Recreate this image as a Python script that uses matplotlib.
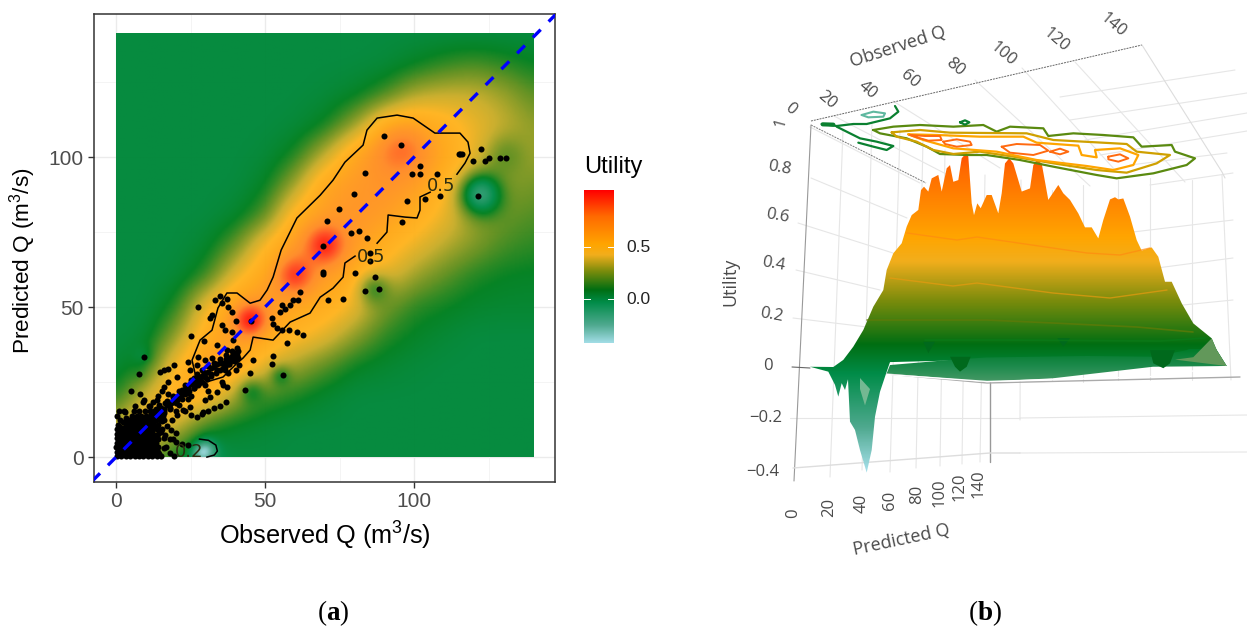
import numpy as np
import matplotlib
matplotlib.use("Agg")
import matplotlib.pyplot as plt
from matplotlib.colors import LinearSegmentedColormap, Normalize
from matplotlib.patches import Polygon

plt.rcParams['font.family'] = ['Liberation Sans', 'DejaVu Sans']
plt.rcParams['mathtext.fontset'] = 'custom'
plt.rcParams['mathtext.rm'] = 'Liberation Sans'
plt.rcParams['mathtext.bf'] = 'Liberation Serif:bold'
plt.rcParams['mathtext.default'] = 'regular'

W, H = 1247, 632

# ---------- panel (a) data ----------
grid_q = list(range(0, 150, 10))
utility_grid = [
 [.22,.20,.05,-.06,.00,.00,.00,.00,.00,.00,.00,.00,.00,.00,.00],   # pred 0
 [.30,.45,.30,.10,.04,.02,.00,.00,.00,.00,.00,.00,.00,.00,.00],
 [.08,.32,.50,.45,.25,.12,.08,.03,.00,.00,.00,.00,.00,.00,.00],
 [.02,.10,.42,.60,.52,.36,.24,.15,.06,.03,.01,.00,.00,.00,.00],
 [.00,.02,.22,.50,.62,.52,.44,.36,.22,.10,.05,.02,.00,.00,.00],
 [.00,.00,.08,.38,.60,.65,.55,.50,.38,.20,.10,.07,.04,.03,.03],
 [.00,.00,.01,.10,.36,.55,.70,.60,.52,.38,.24,.16,.09,.06,.05],
 [.00,.00,.00,.03,.16,.42,.62,.78,.60,.48,.38,.28,.20,.13,.10],
 [.00,.00,.00,.00,.03,.14,.48,.60,.65,.60,.50,.38,.26,.18,.14],
 [.00,.00,.00,.00,.00,.05,.24,.55,.62,.66,.60,.46,.30,.24,.18],
 [.00,.00,.00,.00,.00,.01,.08,.28,.55,.65,.68,.54,.38,.30,.24],
 [.00,.00,.00,.00,.00,.00,.01,.06,.22,.46,.54,.48,.38,.30,.22],
 [.00,.00,.00,.00,.00,.00,.00,.01,.04,.12,.26,.30,.30,.24,.15],
 [.00,.00,.00,.00,.00,.00,.00,.00,.00,.01,.05,.10,.13,.10,.06],
 [.00,.00,.00,.00,.00,.00,.00,.00,.00,.00,.00,.00,.00,.00,.00],
]
# local features on the surface: observed, predicted, utility change, radius
feature_x = [45, 60, 70, 95, 122, 30, 86, 55, 45, 130, 9, 8, 28]
feature_y = [45, 60, 70, 103, 87, 2, 56, 27, 22, 100, 33, 27, 1]
feature_a = [.38, .24, .25, .14, -.42, -.28, -.22, -.14, -.14, -.12, -.06, -.03, -.15]
feature_r = [3.5, 4, 4, 6, 5, 2.5, 4, 2.5, 3, 5, 2.5, 2, 2]

obs_points = [
 90,95.7,115,115.5,116,122.5,119.8,123.9,125.2,128.8,131,102,99.3,102,107.8,83.7,79.7,108.8,103.8,97.6,121.6,
 74.8,70.7,95.8,78.8,81.5,84.2,69.4,85.3,85.3,69.4,69.6,80.1,86.8,83.7,88.2,71.2,76.1,
 61.8,60.9,59.5,58.4,55.6,56.7,55,52.3,52.8,54,55.6,58.2,60.6,62.9,57.3,52.8,52.3,56,43.3,46.1,44.8,40.3,41.1,40.5,
 37.2,38.3,39.4,36.6,37.7,36,37.2,35.5,33.8,31.6,29.9,24.9,29.3,22.6,20.5,18.7,
 34.9,33.2,37.2,35.5,37.7,38.8,40.2,45.3,35.5,36.6,38.8,31.6,32.1,27.6,25.2,29.6,33.8,39.4,37.2,40.5,24.3,27.6,29.9,32.1,24.9,27.1,
 19.3,17.6,16.1,14.8,9.5,7.7,4.9,
 20.4,17.6,16.1,15.3,14.2,13.8,12.5,14.5,16.5,18.3,20,21.5,23,24.5,26,27.5,29,30.5,32,33.5,35,36.5,38,39.5,41,
 26,27.5,28.5,29.5,30,31,24,25,23,22,20.5,19,17.5,21,23,25,27,29,31,33,35,37,
 8,9.5,11,12.5,14,15.5,17,18.5,20,15,13,18,20,22,24,16,18,4,3,6.5,9,11.5,
 15,16.5,14,12,10,8,6.5,19,16,12.5,10.5,14.5,16,18,20,12,13.5,
]
pred_points = [
 107,104,101,101,101,102.7,98.7,98.7,99.6,99.6,99.6,96.9,94.3,94.3,94.3,94.8,87.7,87.1,85.9,85.4,87.1,
 82.8,78.8,78.3,74.8,75.2,73,70.3,68.1,65.4,61.8,61,61.4,60.1,55.2,56.1,52.3,52.8,
 55.1,52.3,52.3,50.6,50.6,49.5,48.4,46.2,44.5,42.9,42.3,42.3,41.7,40.6,37.9,33.6,30.9,27.3,22.3,32.3,27.9,29,30.6,34,
 31,32,33,29,28,24,23.5,25,21.7,20,19.2,16.7,15,15.8,14,12.5,
 53.6,52.3,52.8,51.2,50.1,48.4,45.4,45.4,44,42.5,41.7,46.2,47.3,50.1,40.3,38.6,37.3,39,35.6,36.5,31.7,33.2,32.3,32.9,29,30.6,
 30.6,29.5,28.9,28.4,33.4,27.6,22,
 26.7,25,23.5,22,20.5,19,18.5,17.5,18,18,19,20,21,22,23,24,25,26,27,28,29,30,31,32,33,
 26.5,25,26.8,28,24,22,19.5,20.5,21.5,22.5,19,20,21,17.5,15.5,14,13.5,14.5,15.5,16.5,17,18.5,
 21,19,17,15,13.5,12,10.5,9,8,8.5,7,6,5,4.5,4,3,1.5,12,15,17,18.5,17,
 9,7.5,6,5,4,3,2,6,12.5,11,9,14,15.5,16.5,15.5,13,16,
]
# the thick ribbon along the 1:1 line
ribbon_obs = [12,13,14,15,16,17,18,19,20,21,22,23,24,25,26,27,28,29,30,31,32,33,34,35,36,37,38,39,40,41,
              13,15,17,19,21,23,25,27,29,31,33,35,37,39,
              14,16,18,20,22,24,26,28,30,32,34,36,38,40]
ribbon_pred = [12.5,13.8,14.2,15.5,15.9,17.3,17.6,19.2,19.4,20.8,21.1,22.6,23,24.4,24.8,25.7,26.3,26.9,28.2,28.5,29.7,30,30.9,31.5,31.4,32.8,33.1,33.6,34.7,35.2,
               14.8,16.4,18.6,20.4,22.2,24,25.8,27.6,29,30.4,31.4,32.8,34,35.3,
               12.6,14.6,16,18,19.4,21.4,23.2,24.8,26.6,27.6,29.2,29.8,31.2,32.4]
# the solid cloud near the origin: predicted level, observed values on that level
cloud_levels = [0.3, 1.05, 1.8, 2.6, 3.3, 4.1, 4.8, 5.6, 6.3, 7.1, 7.8, 8.6, 9.3, 10, 10.8, 11.6, 12.3, 13, 13.8, 15.3]
cloud_rows = [
 [0.2,1.7,3.2,4.7,6.2,7.7,9.2,10.7,12.2,13.7,15.2,19.5],
 [0.9,2.4,3.9,5.4,6.9,8.4,9.9,11.4,12.9,14.5],
 [0.4,1.9,3.4,4.9,6.4,7.9,9.4,10.9,12.4,14.2],
 [1.1,2.6,4.1,5.6,7.1,8.6,10.1,11.6,13.1],
 [0.1,1.6,3.1,4.6,6.1,7.6,9.1,10.6,12.1,14,16.8],
 [0.8,2.3,3.8,5.3,6.8,8.3,9.8,11.3,12.8],
 [0.3,1.8,3.3,4.8,6.3,7.8,9.3,10.8,12.3,13.5],
 [1,2.5,4,5.5,7,8.5,10,11.5,13],
 [0.2,1.7,3.2,4.7,6.2,7.7,9.2,10.7,12.2,13.7,16],
 [0.9,2.4,3.9,5.4,6.9,8.4,9.9,11.4],
 [0.4,1.9,3.4,4.9,6.4,7.9,9.4,10.9,12.4,14.1],
 [1.1,2.6,4.1,5.6,7.1,8.6,10.1,11.6],
 [0.3,1.8,3.3,4.8,6.3,7.8,9.3,10.8,12.3,13.6,15.4],
 [1.4,3,4.5,6,7.5,9,10.5,12],
 [0.7,3.7,5.2,6.7,8.2,9.7,11.2,12.7,14.2],
 [2.2,4.8,6.4,8,9.5,11,12.5],
 [1.2,4.3,5.8,7.3,8.8,10.3,11.8,13.3,14.8],
 [3.2,6.2,7.7,9.2,10.7,12.2,13.8],
 [0.2,5.4,6.9,8.4,9.9,11.4,12.9,14.4,15.9],
 [0.9,2.6,5.9,7.8,9.6,11.3,12.8,14.3,15.8],
]

contour_a_x = [27.2,25.5,28.2,32.2,34.2,37.2,40.6,45,48.3,50.7,52.7,55.4,60.7,68.5,72.8,76.8,82.9,84.2,87.6,94.3,99.7,107,115.4,118.1,118.8,117.1,114.4]
contour_a_y = [25,32.3,39,42.3,49.7,54.7,54.7,51.3,52.3,55.7,60,69,79.7,87.3,92.3,98.3,104,109,113,114,113,108,108,105,101.3,98,94.3]
contour_b_x = [105.4,102,102,101,97,91.3,90.9,87.6]
contour_b_y = [88.3,86.7,82.3,79.7,80,80.7,75,71.3]
contour_c_x = [80.2,76.8,76.2,72.8,68.5,65.1,58.4,52.7,46,45,42.6,40.6,35.9,29.2,27.2]
contour_c_y = [67,64.7,60,56.3,53.3,48,45,39,40,35.7,33,31.3,26.7,24.7,25]
contour_d_x = [28,31,33.5,34,33,30.5]
contour_d_y = [6,5.6,4,2,0.7,0]

tick_values = [0, 50, 100]
legend_ticks = [0.0, 0.5]

# ---------- panel (b) data ----------
surface_x = [810,833.3,843.3,853.3,863.3,873.3,883.3,886.7,893.3,901.7,906.7,911.7,918.3,921,924,928.3,931.7,938.3,941.7,946.7,950,953.3,958.3,961.7,966,968.3,971.7,974,977.3,980.7,986.7,991.7,998.3,1001.7,1005,1009.3,1013.3,1021.7,1030,1033.3,1036.7,1041.7,1048.3,1058.3,1063.3,1070,1078.3,1085,1091.7,1098.3,1103.3,1110,1115,1118.3,1123.3,1130,1136.7,1141.7,1151.7,1158.3,1165,1171.7,1181.7,1193.3,1211.7,1216.7,1226.7]
surface_u = [.001,0,.029,.083,.151,.246,.314,.396,.464,.505,.573,.620,.641,.722,.736,.716,.770,.784,.716,.811,.824,.756,.763,.852,.872,.859,.668,.620,.668,.648,.702,.702,.627,.709,.831,.852,.831,.716,.729,.824,.845,.831,.682,.743,.709,.682,.627,.570,.570,.525,.600,.684,.693,.684,.688,.614,.518,.475,.488,.450,.348,.348,.260,.178,.117,.069,.004]
spike_x = [886.7,880,875,871.7,866.7,860,855,850,848,845,841.7,838.3,835,828.3]
spike_u = [-.019,-.101,-.203,-.339,-.431,-.339,-.257,-.223,-.05,-.094,-.066,-.121,-.073,-.019]
skirt_x = [890,950,986.7,1086.7,1153,1186.7,1210,1216.7,1226.7,1153,1053,986.7,886.7]
skirt_u = [.008,.029,.039,.045,.042,.069,.117,.069,.004,.001,-.046,-.06,-.026]
dips = [([950,955,960,966.7,970.7],[.042,.001,-.019,.001,.042]),
        ([1150,1153.3,1163.3,1170,1175],[.069,.015,-.005,.015,.069]),
        ([1057.3,1063.3,1070],[.117,.083,.117]),
        ([923.3,928.3,935],[.103,.056,.103])]

z_ticks = ['1', '0.8', '0.6', '0.4', '0.2', '0', '\u22120.2', '\u22120.4']
q_ticks = ['0', '20', '40', '60', '80', '100', '120', '140']

# ---------- colours ----------
stops = [(-.42,'#a2dde6'),(-.25,'#4fa98f'),(-.03,'#008c48'),(.09,'#006e12'),(.27,'#7c8c0c'),
         (.43,'#f2ae1c'),(.53,'#ffa500'),(.8,'#ff6a00'),(1.05,'#ff0000')]
heat_stops = [(-.42,'#a2dde6'),(-.25,'#4fa98f'),(-.03,'#008c48'),(.06,'#00801f'),(.16,'#5e8f1e'),(.3,'#c9ad2a'),
              (.42,'#ffb41f'),(.52,'#ffa818'),(.7,'#ff8a28'),(.85,'#ff4a20'),(1.05,'#ff0000')]
vmin, vmax = -.42, 1.05
mk = lambda st: LinearSegmentedColormap.from_list('u', [((v-vmin)/(vmax-vmin), c) for v, c in st], N=512)
cmap = mk(stops)
heat_cmap = mk(heat_stops)
norm = Normalize(vmin, vmax)

fig = plt.figure(figsize=(W/100, H/100), dpi=100, facecolor='white')

def px_axes(l, t, r, b, **kw):
    return fig.add_axes([l/W, 1-b/H, (r-l)/W, (b-t)/H], **kw)

# ---------- panel (a) ----------
ax = px_axes(94, 14, 555, 482)
ax.set_xlim(-7.4, 147.3)
ax.set_ylim(-8.3, 147.7)
for v in tick_values + [150]:
    ax.axvline(v, color='#ebebeb', lw=1, zorder=0); ax.axhline(v, color='#ebebeb', lw=1, zorder=0)
for v in [25, 75, 125]:
    ax.axvline(v, color='#f2f2f2', lw=.6, zorder=0); ax.axhline(v, color='#f2f2f2', lw=.6, zorder=0)

q = np.arange(0, 140.5, .5)
G = np.array(utility_grid)
tmp = np.array([np.interp(q, grid_q, row) for row in G])
F = np.array([np.interp(q, grid_q, col) for col in tmp.T]).T
k = np.exp(-.5*(np.arange(-16, 17)/6.5)**2); k /= k.sum()
pad = 16
Fp = np.pad(F, pad, mode='edge')
Fp = np.apply_along_axis(lambda a: np.convolve(a, k, 'same'), 0, Fp)
Fp = np.apply_along_axis(lambda a: np.convolve(a, k, 'same'), 1, Fp)
F = Fp[pad:-pad, pad:-pad]
X, Y = np.meshgrid(q, q)
for fx, fy, fa, fr in zip(feature_x, feature_y, feature_a, feature_r):
    F = F + fa*np.exp(-((X-fx)**2+(Y-fy)**2)/(2*fr**2))
ax.imshow(F, origin='lower', extent=(0, 140, 0, 141), cmap=heat_cmap, norm=norm, aspect='auto',
          interpolation='bilinear', alpha=.98, zorder=1)
for cx, cy in [(contour_a_x, contour_a_y), (contour_b_x, contour_b_y), (contour_c_x, contour_c_y), (contour_d_x, contour_d_y)]:
    ax.plot(cx, cy, color='black', lw=1.1, zorder=2)
ax.scatter(obs_points, pred_points, s=19, color='black', linewidths=0, zorder=3)
ax.scatter(ribbon_obs, ribbon_pred, s=19, color='black', linewidths=0, zorder=3)
for lv, row in zip(cloud_levels, cloud_rows):
    ax.scatter(row, [lv]*len(row), s=19, color='black', linewidths=0, zorder=3)
ax.plot([-8, 148], [-8, 148], color='#0000ff', lw=2.4, dashes=(3.3, 3.4), zorder=4)
for lx, ly, s in [(109, 90.3, '0.5'), (85.5, 66.7, '0.5'), (24.5, 1.7, '0.2')]:
    ax.text(lx, ly, s, fontsize=13, color='#2c2c10', ha='center', va='center', family='DejaVu Sans', zorder=5)
ax.set_xticks(tick_values); ax.set_yticks(tick_values)
ax.tick_params(labelsize=15, labelcolor='#4d4d4d', color='#333333', length=4, width=1)
ax.set_xlabel('Observed Q (m$^3$/s)', fontsize=18.2, labelpad=6)
ax.set_ylabel('Predicted Q (m$^3$/s)', fontsize=16.2)
ax.yaxis.set_label_coords(-.122, .472)
for s in ax.spines.values():
    s.set_color('#333333'); s.set_linewidth(1.1)

# legend
fig.text(584/W, 1-167/H, 'Utility', fontsize=17, va='center', ha='left')
cax = px_axes(584, 190, 614, 343)
cax.imshow(np.linspace(1.05, -.42, 256)[:, None], cmap=cmap, norm=norm, aspect='auto', extent=(0, 1, -.42, 1.05))
cax.set_xticks([])
cax.set_yticks([])
for s in cax.spines.values():
    s.set_visible(False)
for t in legend_ticks:
    cax.plot([0, .2], [t, t], color='white', lw=.7); cax.plot([.8, 1], [t, t], color='white', lw=.7)
    fig.text(626/W, 1-(299-t*104)/H, f'{t:.1f}', fontsize=12.5, va='center', ha='left', color='#222222')
cax.set_xlim(0, 1); cax.set_ylim(-.42, 1.05)

# ---------- panel (b) ----------
bx = px_axes(720, 0, 1247, 632)
bx.set_axis_off()
bx.set_xlim(720, 1247)
uy = lambda py: (367-np.asarray(py, float))/245
bx.set_ylim(uy(632), uy(0))

def pl(xs, ys, **kw):
    kw.setdefault('solid_capstyle', 'round')
    bx.plot(xs, uy(ys), **kw)

gc = '#e6e6e6'
for a, b, c, d in [(811,178,907,218),(798,223,893,253),(796,270,880,290),(793,318,867,327),
                   (810,127,920,183),(834,116,948,175),
                   (893,101,1000,168),(975,80,1090,186),(1022,68,1115,170),(1075,62,1185,182),
                   (1235,70,1060,97),(1247,93,1070,120),(1247,113,1085,140),(1247,131,1100,155),
                   (1227,153,1130,165),(1233,173,1150,185),
                   (1233,220,1133,232),(1233,258,1157,268),(1233,300,1183,305),
                   (843,130,830,477),(872,122,862,470),(900,130,890,472),(923,140,916,468),(945,150,940,466),(966,165,962,464),(985,175,980,462),
                   (1021,180,1020,420),(1052,190,1052,380),(1083,185,1083,382),(1118,180,1118,380),(1150,178,1150,380),(1192,180,1192,380),(1222,175,1231,380),
                   (790,418,1020,418),(1020,418,1247,415),(1020,453,1247,452)]:
    pl([a, c], [b, d], color=gc, lw=.8, zorder=1)
pl([811, 1142], [121, 45], color='#666666', lw=.7, ls=(0, (2, 1)), zorder=2)
pl([811, 926], [125, 183], color='#777777', lw=.7, ls=(0, (2, 1)), zorder=2)
pl([811, 794], [125, 481], color='#999999', lw=.8, zorder=2)
pl([990, 990], [357, 462], color='#999999', lw=1, zorder=2)
pl([793, 990, 1020], [468, 453, 453], color='#dddddd', lw=1, zorder=2)
pl([792, 810], [367, 368], color='#666666', lw=.8, zorder=2)
pl([887, 987, 1240], [374, 383, 377], color='#aaaaaa', lw=1, zorder=2)
pl([1142, 1222, 1225], [45, 172, 178], color='#dddddd', lw=.8, zorder=2)

outline_x = surface_x + [1153, 1086.7, 986.7, 890] + spike_x
outline_u = surface_u + [.03, .03, .03, .02] + spike_u
poly = Polygon(np.c_[outline_x, outline_u], transform=bx.transData, fc='none', ec='none')
bx.add_patch(poly)
im = bx.imshow(np.linspace(1.05, -.45, 400)[:, None], cmap=cmap, norm=norm, aspect='auto',
               extent=(720, 1247, -.45, 1.05), zorder=3)
im.set_clip_path(poly)
bx.set_xlim(720, 1247); bx.set_ylim(uy(632), uy(0))
bx.fill([860, 870, 865, 860], [-.045, -.09, -.157, -.09], color='#74b892', lw=0, zorder=4)
skirt = Polygon(np.c_[skirt_x, skirt_u], transform=bx.transData, fc='none', ec='none')
bx.add_patch(skirt)
skirt_cmap = LinearSegmentedColormap.from_list('sk', ['#4a9a68', '#1c8a4c', '#007a28'])
im2 = bx.imshow(np.linspace(.07, -.065, 100)[:, None], cmap=skirt_cmap, aspect='auto',
                extent=(720, 1247, -.065, .07), zorder=4)
im2.set_clip_path(skirt)
bx.set_xlim(720, 1247); bx.set_ylim(uy(632), uy(0))
bx.fill([1193.3, 1211.7, 1216.7, 1226.7, 1175], [.04, .117, .069, .004, .03], color='#62985a', lw=0, zorder=5)
for dx, du in dips:
    bx.fill(dx, du, color='#00691c', lw=0, zorder=5)
pl([887, 987, 1153, 1226], [374.5, 381.5, 376.5, 366.5], color='white', lw=1, zorder=5)
pl([907,957,977,1087,1120,1150],[233,240,237,253,255,248], color='#ff8a10', lw=1, alpha=.7, zorder=6)
pl([890,953,977,1053,1110,1167],[278,286,283,293,298,290], color='#e89a10', lw=1, alpha=.7, zorder=6)
pl([867,987,1053,1137,1193],[320,320,323,327,332], color='#5e7a08', lw=1.2, alpha=.8, zorder=6)
pl([925,1000,1160,1205],[340,340,341,338], color='#0a7a18', lw=1.2, alpha=.8, zorder=6)

def zc(pts):
    a = np.array(pts, float)
    return 720+a[:, 0]/3, a[:, 1]/3
top_lines = [
 ('#5a8a10', 1.6, [(460,390),(520,380),(600,375),(700,380),(790,375),(830,395),(870,380),(970,385),(985,408),(1060,400),(1150,405),(1240,412),(1265,440),(1355,435),(1365,455),(1425,475),(1400,495),(1300,520),(1190,535),(1130,525),(1000,500),(900,480),(800,465),(740,465),(660,462),(620,440),(560,415),(480,400),(460,390)]),
 ('#cfa000', 1.6, [(515,397),(600,390),(690,398),(920,400),(1000,420),(1220,432),(1250,455),(1350,465),(1310,490),(1220,518),(1130,510),(1000,490),(880,470),(780,455),(700,462),(640,450),(590,425),(530,410),(515,397)]),
 ('#ffa500', 1.6, [(565,403),(650,405),(780,410),(910,410),(950,428),(1075,437),(1085,465),(1130,472),(1125,450),(1200,445),(1255,465),(1240,495),(1180,510),(1100,498),(950,480),(830,455),(700,445),(610,420),(565,403)]),
 ('#ff6a10', 1.4, [(570,405),(615,408),(660,408),(665,420),(625,422),(590,412),(570,405)]),
 ('#ff6a10', 1.4, [(670,425),(710,418),(750,425),(755,435),(710,440),(675,432),(670,425)]),
 ('#ff6a10', 1.4, [(845,440),(890,432),(960,435),(985,452),(940,465),(870,458),(845,440)]),
 ('#ff6a10', 1.4, [(990,455),(1020,446),(1045,455),(1020,463),(990,455)]),
 ('#ff6a10', 1.4, [(1165,470),(1200,463),(1225,475),(1195,485),(1165,478),(1165,470)]),
 ('#0a8030', 1.6, [(305,372),(350,378),(400,372),(440,372),(510,355),(535,335),(525,318)]),
 ('#0a8030', 1.6, [(350,380),(420,415),(470,425),(520,438),(500,450),(460,440),(415,428)]),
 ('#0a8030', 1.6, [(720,367),(735,361),(748,367),(735,374),(720,367)]),
 ('#0a8030', 3.0, [(308,373),(340,374)]),
 ('#5fb8a0', 1.5, [(425,345),(460,335),(495,340),(490,350),(445,352),(425,345)]),
]
for col, lw, pts in top_lines:
    xs, ys = zc(pts)
    pl(xs, ys, color=col, lw=lw, zorder=7)

def lab(px, py, s, rot=0, size=12):
    bx.text(px, uy(py), s, rotation=rot, rotation_mode='anchor', ha='center', va='center',
            fontsize=size, color='#4a4a4a', family='Open Sans', zorder=8)

for (px, py), s in zip([(781,122),(779,168),(777,216),(773,264),(771,315),(768,366),(766,418),(763,472)], z_ticks):
    lab(px, py, s, rot=-10 if s in ('0.8','0.6','0.4','0.2') else (75 if s == '1' else 0))
for (px, py), s in zip([(790,109),(827,100),(868,90),(910,79),(955,67),(1003,54),(1056,40),(1113,25)], q_ticks):
    lab(px, py, s, rot=-40)
for (px, py), s in zip([(793,513),(829,507),(862,503),(890,500),(917,494),(940,493),(960,487),(979,484)], q_ticks):
    lab(px, py, s, rot=90)
lab(898, 47, 'Observed Q', rot=18, size=13)
lab(902, 540, 'Predicted Q', rot=12, size=13)
lab(730, 282, 'Utility', rot=90, size=13)

fig.text(333/W, 1-613/H, '($\\mathbf{a}$)', fontsize=19.5, ha='center', va='center', family='Liberation Serif')
fig.text(985/W, 1-613/H, '($\\mathbf{b}$)', fontsize=19.5, ha='center', va='center', family='Liberation Serif')

fig.savefig('out.png', dpi=100)
